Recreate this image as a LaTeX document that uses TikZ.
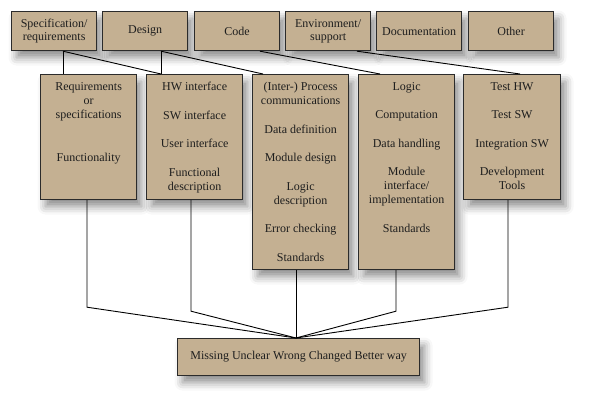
\documentclass[tikz,border=0pt]{standalone}
\usepackage{fontspec}
\setmainfont{Liberation Serif}
\usetikzlibrary{shadows.blur}
\definecolor{boxfill}{HTML}{C4B092}
\definecolor{boxline}{HTML}{2B2B2B}
\definecolor{txt}{HTML}{1E1E1E}
\tikzset{
  box/.style={draw=boxline, line width=1.2pt, fill=boxfill,
    blur shadow={shadow xshift=5pt, shadow yshift=-7pt, shadow blur radius=8pt, shadow opacity=45},
    inner sep=0pt, anchor=north west, align=center, text=txt,
    font=\fontsize{12}{13.5}\selectfont},
  topbox/.style={box, minimum width=85pt, minimum height=39pt},
  midbox/.style={box, minimum width=96pt},
  lbl/.style={anchor=north, inner sep=0pt, align=center, text=txt,
    font=\fontsize{12}{14}\selectfont},
  conn/.style={draw=black, line width=0.9pt}
}
\begin{document}
\begin{tikzpicture}[x=1pt,y=-1pt]
\useasboundingbox (0,0) rectangle (590,404);
% top row
\node[topbox] (t1) at (11,11) {Specification/\\requirements};
\node[topbox] (t2) at (102,11) {Design};
\node[topbox] (t3) at (194,11) {Code};
\node[topbox] (t4) at (285,11) {Environment/\\support};
\node[topbox] (t5) at (376,11) {Documentation};
\node[topbox] (t6) at (468,11) {Other};
% middle row
\node[midbox, minimum height=125pt] (mA) at (40,74) {};
\node[midbox, minimum height=125pt] (mB) at (146,74) {};
\node[midbox, minimum height=195pt] (mC) at (252,74) {};
\node[midbox, minimum height=195pt] (mD) at (358,74) {};
\node[midbox, minimum width=97pt, minimum height=125pt] (mE) at (463,74) {};
\node[lbl] (la) at ([yshift=-8pt]mA.north) {Requirements\\or\\specifications\\[29pt]Functionality};
\node[lbl] (lb) at ([yshift=-8pt]mB.north) {HW interface\\[14.5pt]SW interface\\[14.5pt]User interface\\[14.5pt]Functional\\description};
\node[lbl] (lc) at ([yshift=-8pt]mC.north) {(Inter-) Process\\communications\\[14.5pt]Data definition\\[14.5pt]Module design\\[14.5pt]Logic\\description\\[14.5pt]Error checking\\[14.5pt]Standards};
\node[lbl] (ld) at ([yshift=-8pt]mD.north) {Logic\\[14.5pt]Computation\\[14.5pt]Data handling\\[14.5pt]Module\\interface/\\implementation\\[14.5pt]Standards};
\node[lbl] (le) at ([yshift=-8pt]mE.north) {Test HW\\[14.5pt]Test SW\\[14.5pt]Integration SW\\[14.5pt]Development\\Tools};
% bottom
\node[box, minimum width=242pt, minimum height=37pt] (bot) at (177,338) {Missing Unclear Wrong Changed Better way};
\coordinate (j) at ([xshift=119pt]bot.north west);
% top connectors
\draw[conn] ([xshift=52pt]t1.south west) -- ([xshift=23pt]mA.north west);
\draw[conn] ([xshift=52pt]t1.south west) -- ([xshift=15pt]mB.north west);
\draw[conn] ([xshift=59pt]t2.south west) -- ([xshift=15pt]mB.north west);
\draw[conn] ([xshift=59pt]t2.south west) -- ([xshift=11pt]mC.north west);
\draw[conn] ([xshift=66pt]t3.south west) -- ([xshift=22pt]mD.north west);
\draw[conn] ([xshift=72pt]t4.south west) -- ([xshift=57pt]mE.north west);
% bottom connectors
\draw[conn] ([xshift=47pt]mA.south west) -- ([xshift=47pt,yshift=-107pt]mA.south west) -- (j);
\draw[conn] ([xshift=45pt]mB.south west) -- ([xshift=45pt,yshift=-111pt]mB.south west) -- (j);
\draw[conn] ([xshift=44pt]mC.south west) -- (j);
\draw[conn] ([xshift=38pt]mD.south west) -- ([xshift=38pt,yshift=-41pt]mD.south west) -- (j);
\draw[conn] ([xshift=45pt]mE.south west) -- ([xshift=45pt,yshift=-107pt]mE.south west) -- (j);
\end{tikzpicture}
\end{document}
